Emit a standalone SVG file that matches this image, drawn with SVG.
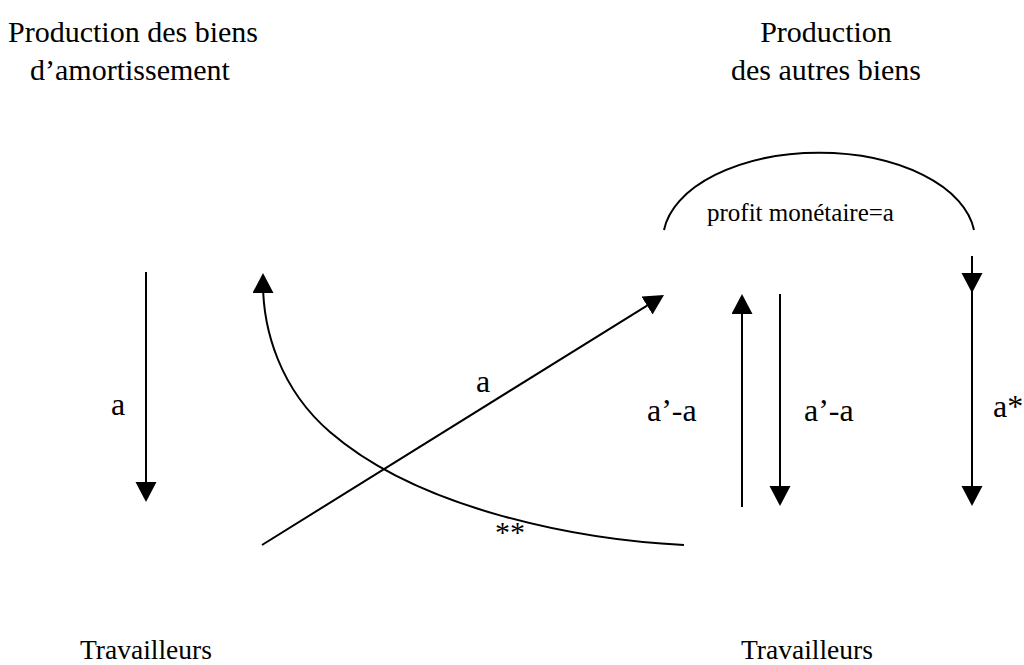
<svg xmlns="http://www.w3.org/2000/svg" width="1024" height="665" viewBox="0 0 1024 665">
<style>
text{font-family:"Liberation Serif","Times New Roman",serif;fill:#000}
.t{font-size:30px}
.b{font-size:27.5px}
.l{font-size:32px}
.s{font-size:25px}
.c{stroke:#000;stroke-width:2;fill:none}
</style>
<defs>
<marker id="ah" markerUnits="userSpaceOnUse" markerWidth="22" markerHeight="22" refX="10" refY="10.5" orient="auto" viewBox="0 0 22 22">
<path d="M0,0 L20,10.5 L0,21 z" fill="#000"/>
</marker>
</defs>
<rect width="1024" height="665" fill="#fff"/>
<g id="n-amort">
<text class="t" x="8" y="42">Production des biens</text>
<text class="t" x="30" y="80">d’amortissement</text>
</g>
<g id="n-autres">
<text class="t" x="826" y="42" text-anchor="middle">Production</text>
<text class="t" x="826" y="80" text-anchor="middle">des autres biens</text>
</g>
<g id="n-trav1">
<text class="b" x="80" y="659">Travailleurs</text>
</g>
<g id="n-trav2">
<text class="b" x="741" y="659">Travailleurs</text>
</g>
<g id="connectors">
<line class="c" x1="146" y1="272" x2="146" y2="492" marker-end="url(#ah)"/>
<path class="c" d="M684,545 C580,540 420,510 330,432 C280,389 263,330 263,283" marker-end="url(#ah)"/>
<line class="c" x1="262" y1="545" x2="655.5" y2="300.3" marker-end="url(#ah)"/>
<path class="c" d="M664,230 A156,87 0 0 1 974,230"/>
<line class="c" x1="742" y1="507" x2="742" y2="304" marker-end="url(#ah)"/>
<line class="c" x1="780" y1="294" x2="780" y2="496" marker-end="url(#ah)"/>
<path class="c" d="M972,256 V283 V496" marker-mid="url(#ah)" marker-end="url(#ah)"/>
</g>
<g id="labels">
<text class="s" x="707" y="221">profit monétaire=a</text>
<text class="l" x="111" y="415">a</text>
<text class="l" x="476" y="392">a</text>
<text class="l" x="647" y="421">a’-a</text>
<text class="l" x="804" y="421">a’-a</text>
<text class="l" x="993" y="417">a*</text>
<text class="t" x="495" y="542">**</text>
</g>
</svg>
